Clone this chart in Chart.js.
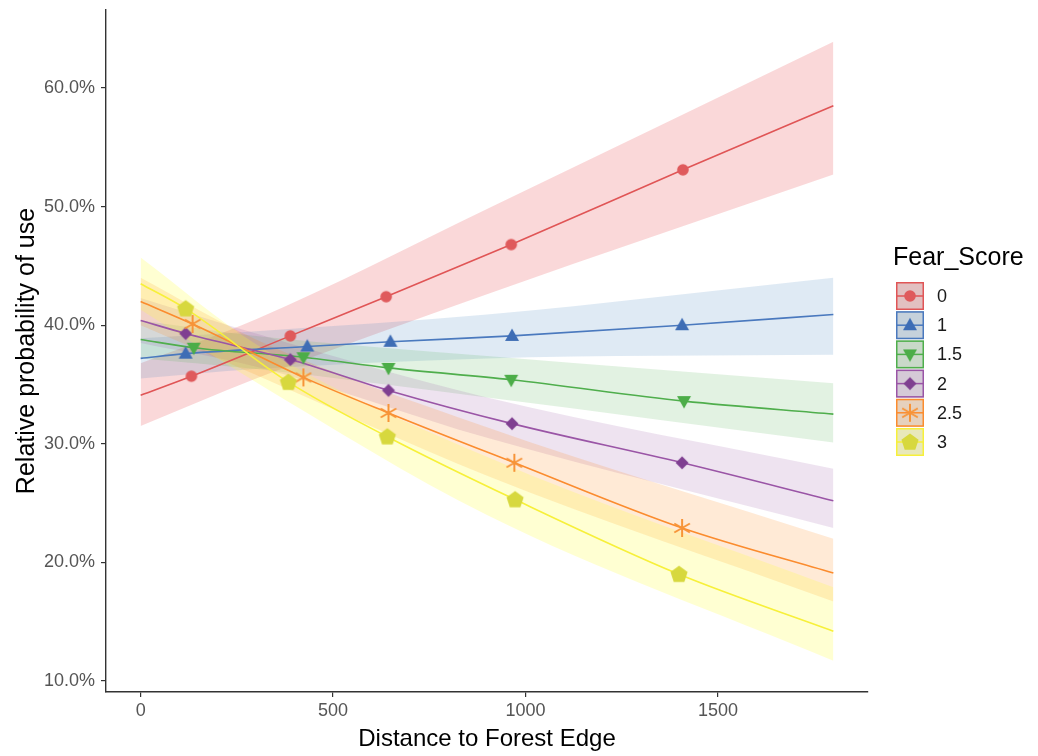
<!DOCTYPE html>
<html>
<head>
<meta charset="utf-8">
<script src="https://cdn.jsdelivr.net/npm/chart.js@4.4.1/dist/chart.umd.min.js"></script>
<style>
  html, body { margin: 0; padding: 0; background: #fff; }
  canvas { display: block; }
</style>
</head>
<body>
<canvas id="c" width="1038" height="756"></canvas>
<script>
// Effects plot: relative probability of use vs distance to forest edge, by Fear_Score
const fearScores = ['0', '1', '1.5', '2', '2.5', '3'];
const xTicks = [0, 500, 1000, 1500];
const yTicks = [10, 20, 30, 40, 50, 60];

// fitted curve at x = 0 and x = 1800
const curveStart = [34.1, 37.2, 38.8, 40.4, 42.0, 43.5];
const curveEnd = [58.5, 40.9, 32.5, 25.2, 19.1, 14.2];

// marker positions (distance, %) per Fear_Score
const markX0 = [132, 389, 638, 963, 1409];
const markY0 = [35.7, 39.1, 42.4, 46.8, 53.1];
const markX1 = [117, 433, 649, 965, 1407];
const markY1 = [37.6, 38.2, 38.6, 39.1, 40.0];
const markX15 = [138, 423, 644, 963, 1412];
const markY15 = [38.1, 37.3, 36.4, 35.4, 33.6];
const markX2 = [117, 389, 644, 965, 1407];
const markY2 = [39.3, 37.1, 34.5, 31.7, 28.4];
const markX25 = [135, 423, 644, 971, 1407];
const markY25 = [40.1, 35.6, 32.6, 28.4, 22.9];
const markX3 = [117, 384, 641, 973, 1399];
const markY3 = [41.4, 35.2, 30.6, 25.3, 19.0];

// confidence band edges at bandX
const bandX = [0, 300, 900, 1800];
const bandLo0 = [31.5, 35.5, 42.6, 52.7];
const bandHi0 = [36.8, 40.5, 49.8, 63.9];
const bandLo1 = [35.5, 36.3, 37.2, 37.5];
const bandHi1 = [38.9, 39.5, 40.9, 44.0];
const bandLo15 = [37.2, 36.3, 33.9, 30.1];
const bandHi15 = [40.4, 39.1, 37.4, 35.1];
const bandLo2 = [38.5, 36.5, 30.5, 22.9];
const bandHi2 = [42.3, 39.3, 33.9, 27.9];
const bandLo25 = [40.0, 35.8, 27.3, 16.7];
const bandHi25 = [44.0, 38.8, 31.4, 22.0];
const bandLo3 = [41.3, 35.2, 24.0, 11.7];
const bandHi3 = [45.7, 38.4, 28.9, 17.9];

const markXs = [markX0, markX1, markX15, markX2, markX25, markX3];
const markYs = [markY0, markY1, markY15, markY2, markY25, markY3];
const bandLos = [bandLo0, bandLo1, bandLo15, bandLo2, bandLo25, bandLo3];
const bandHis = [bandHi0, bandHi1, bandHi15, bandHi2, bandHi25, bandHi3];

const lineColors = ['#e05556', '#4a79be', '#4fae4c', '#9a55a6', '#fb8c2e', '#f7f03a'];
const markColors = ['#df5a5c', '#3e6db5', '#4cad48', '#7f3f91', '#f79438', '#d7d83e'];
const bandColors = [
    'rgba(228,26,28,0.17)', 'rgba(55,126,184,0.16)', 'rgba(77,175,74,0.16)',
    'rgba(152,78,163,0.16)', 'rgba(255,127,0,0.16)', 'rgba(255,255,51,0.22)'
];
const shapes = ['circle', 'triangle', 'triangleDown', 'diamond', 'asterisk', 'pentagon'];

const FONT = "'Liberation Sans', Arial, sans-serif";

function makeMarker(shape, color) {
    const c = document.createElement('canvas');
    c.width = 22; c.height = 22;
    const g = c.getContext('2d');
    g.translate(11, 11);
    g.fillStyle = color;
    g.strokeStyle = color;
    g.beginPath();
    if (shape === 'circle') {
        g.arc(0, 0, 5.8, 0, Math.PI * 2);
    } else if (shape === 'triangle') {
        g.moveTo(0, -7.5); g.lineTo(7, 5); g.lineTo(-7, 5); g.closePath();
    } else if (shape === 'triangleDown') {
        g.moveTo(0, 7.5); g.lineTo(7, -5); g.lineTo(-7, -5); g.closePath();
    } else if (shape === 'diamond') {
        g.moveTo(0, -6.5); g.lineTo(6.5, 0); g.lineTo(0, 6.5); g.lineTo(-6.5, 0); g.closePath();
    } else if (shape === 'pentagon') {
        for (let k = 0; k < 5; k++) {
            const a = (-90 + 72 * k) * Math.PI / 180;
            const px = Math.cos(a) * 9, py = Math.sin(a) * 9 + 0.5;
            if (k === 0) g.moveTo(px, py); else g.lineTo(px, py);
        }
        g.closePath();
    }
    if (shape === 'asterisk') {
        g.lineWidth = 2;
        [90, 30, 150].forEach(function(d) {
            const a = d * Math.PI / 180;
            g.moveTo(Math.cos(a) * 9, Math.sin(a) * 9);
            g.lineTo(-Math.cos(a) * 9, -Math.sin(a) * 9);
        });
        g.stroke();
    } else {
        g.fill();
    }
    return c;
}

const markers = shapes.map(function(s, i) { return makeMarker(s, markColors[i]); });

const datasets = [];
// bands first
fearScores.forEach(function(name, i) {
    const loIndex = datasets.length;
    datasets.push({
        label: 'lo ' + name,
        data: bandX.map(function(x, k) { return { x: x, y: bandLos[i][k] }; }),
        borderColor: 'transparent', borderWidth: 0, pointRadius: 0,
        fill: false, tension: 0.3, cubicInterpolationMode: 'monotone', order: 40 - i
    });
    datasets.push({
        label: 'hi ' + name,
        data: bandX.map(function(x, k) { return { x: x, y: bandHis[i][k] }; }),
        borderColor: 'transparent', borderWidth: 0, pointRadius: 0,
        backgroundColor: bandColors[i],
        fill: { target: loIndex }, tension: 0.3, cubicInterpolationMode: 'monotone', order: 40 - i
    });
});
// fitted lines
fearScores.forEach(function(name, i) {
    const pts = [{ x: 0, y: curveStart[i] }];
    markXs[i].forEach(function(x, k) { pts.push({ x: x, y: markYs[i][k] }); });
    pts.push({ x: 1800, y: curveEnd[i] });
    datasets.push({
        label: name,
        data: pts,
        borderColor: lineColors[i], borderWidth: 1.6, pointRadius: 0,
        fill: false, cubicInterpolationMode: 'monotone', order: 20 - i
    });
});
// markers
fearScores.forEach(function(name, i) {
    datasets.push({
        label: 'pts ' + name,
        data: markXs[i].map(function(x, k) { return { x: x, y: markYs[i][k] }; }),
        showLine: false,
        pointStyle: markers[i], pointRadius: 7, pointHoverRadius: 7,
        order: 10 - i
    });
});

const legendPlugin = {
    id: 'fearLegend',
    afterDraw(chart) {
        const ctx = chart.ctx;
        ctx.save();
        ctx.fillStyle = '#000';
        ctx.font = '25px ' + FONT;
        ctx.textBaseline = 'middle';
        ctx.textAlign = 'left';
        ctx.fillText('Fear_Score', 893, 258);
        const left = 896, size = 28, top0 = 282, step = 29.2;
        fearScores.forEach(function(name, i) {
            const top = top0 + i * step;
            const cy = top + size / 2;
            ctx.fillStyle = '#e2e2e2';
            ctx.fillRect(left, top, size, size);
            ctx.fillStyle = bandColors[i];
            ctx.fillRect(left, top, size, size);
            ctx.strokeStyle = lineColors[i];
            ctx.lineWidth = 1.5;
            ctx.strokeRect(left + 0.75, top + 0.75, size - 1.5, size - 1.5);
            ctx.beginPath();
            ctx.moveTo(left + 1, cy);
            ctx.lineTo(left + size - 1, cy);
            ctx.stroke();
            ctx.drawImage(markers[i], left + size / 2 - 11, cy - 11);
            ctx.fillStyle = '#1a1a1a';
            ctx.font = '18px ' + FONT;
            ctx.fillText(name, 937, cy + 1);
        });
        ctx.restore();
    }
};

new Chart(document.getElementById('c'), {
    type: 'line',
    data: { datasets: datasets },
    options: {
        responsive: false,
        animation: false,
        devicePixelRatio: 1,
        layout: { padding: { top: 10, right: 170, left: 0, bottom: 0 } },
        plugins: {
            legend: { display: false },
            tooltip: { enabled: false }
        },
        scales: {
            x: {
                type: 'linear',
                min: -90,
                max: 1890,
                afterBuildTicks: function(s) { s.ticks = xTicks.map(function(v) { return { value: v }; }); },
                afterFit: function(s) { s.height = 64; s.paddingLeft = 0; s.paddingRight = 0; },
                ticks: {
                    color: '#555',
                    font: { family: FONT, size: 18 },
                    padding: 3,
                    maxRotation: 0,
                    callback: function(v) { return String(v); }
                },
                grid: { drawOnChartArea: false, drawTicks: true, tickLength: 5, color: '#333', lineWidth: 1.2 },
                border: { display: true, color: '#333', width: 1.4 },
                title: {
                    display: true,
                    text: 'Distance to Forest Edge',
                    color: '#000',
                    font: { family: FONT, size: 24 },
                    padding: { top: 0, bottom: 2 }
                }
            },
            y: {
                min: 9.07,
                max: 66.58,
                afterBuildTicks: function(s) { s.ticks = yTicks.map(function(v) { return { value: v }; }); },
                afterFit: function(s) { s.width = 106; s.paddingTop = 0; s.paddingBottom = 0; },
                ticks: {
                    color: '#555',
                    font: { family: FONT, size: 18 },
                    padding: 6,
                    callback: function(v) { return v.toFixed(1) + '%'; }
                },
                grid: { drawOnChartArea: false, drawTicks: true, tickLength: 5, color: '#333', lineWidth: 1.2 },
                border: { display: true, color: '#333', width: 1.4 },
                title: {
                    display: true,
                    text: 'Relative probability of use',
                    color: '#000',
                    font: { family: FONT, size: 25 },
                    padding: { top: 12, bottom: 0 }
                }
            }
        }
    },
    plugins: [legendPlugin]
});
</script>
</body>
</html>
